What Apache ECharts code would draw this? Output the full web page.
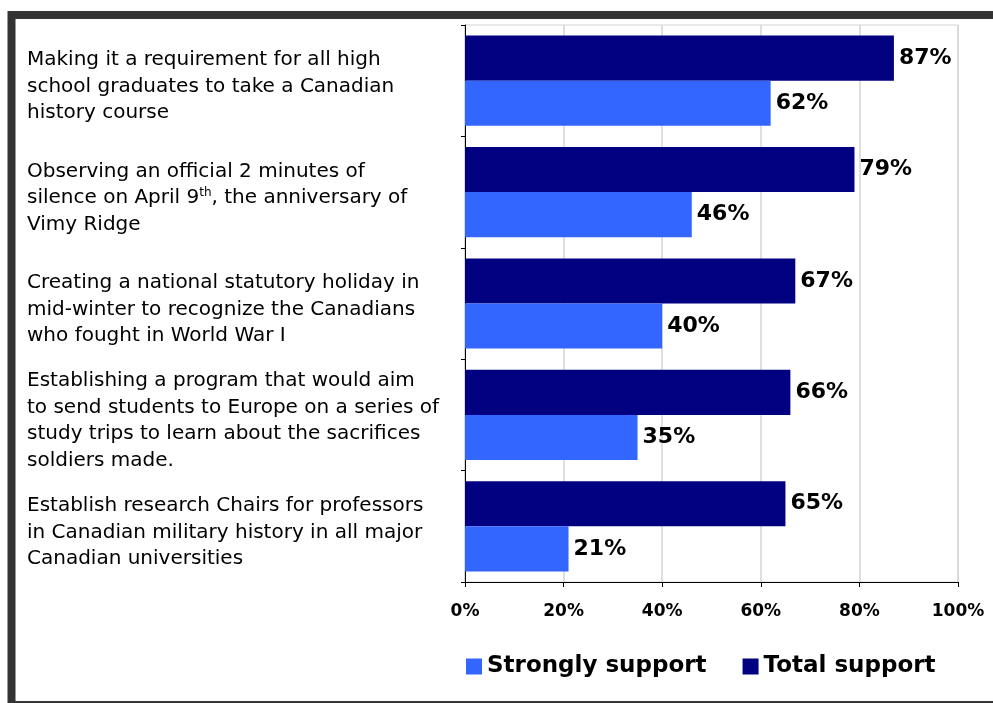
<!DOCTYPE html>
<html>
<head>
<meta charset="utf-8">
<script src="https://cdn.jsdelivr.net/npm/echarts@6/dist/echarts.min.js"></script>
<style>
  html, body { margin: 0; padding: 0; background: #fff; }
  #chart { width: 993px; height: 703px; }
</style>
</head>
<body>
<div id="chart"></div>
<script>
// Proposals, listed top to bottom
const categories = [
  'Making it a requirement for all high\nschool graduates to take a Canadian\nhistory course',
  'Observing an official 2 minutes of\nsilence on April 9th, the anniversary of\nVimy Ridge',
  'Creating a national statutory holiday in\nmid-winter to recognize the Canadians\nwho fought in World War I',
  'Establishing a program that would aim\nto send students to Europe on a series of\nstudy trips to learn about the sacrifices\nsoldiers made.',
  'Establish research Chairs for professors\nin Canadian military history in all major\nCanadian universities'
];
const strongSupport = [62, 46, 40, 35, 21];
const totalSupport = [87, 79, 67, 66, 65];
const xTicks = [0, 20, 40, 60, 80, 100];

const chart = echarts.init(document.getElementById('chart'));

const valueLabel = {
  show: true,
  position: 'right',
  distance: 5,
  formatter: '{c}%',
  color: '#000',
  fontFamily: 'DejaVu Sans',
  fontWeight: 'bold',
  fontSize: 22
};

chart.setOption({
  animation: false,
  backgroundColor: '#fff',
  graphic: [{
    type: 'rect',
    shape: { x: 11.5, y: 15, width: 1000, height: 690 },
    style: { fill: 'none', stroke: '#333', lineWidth: 8 },
    z: 10
  }],
  grid: {
    left: 465, top: 25, right: 35, bottom: 121,
    show: true, borderColor: '#d4d4d4', borderWidth: 1
  },
  legend: {
    data: ['Strongly support', 'Total support'],
    left: 461, top: 650,
    icon: 'rect',
    itemWidth: 16, itemHeight: 16, itemGap: 36,
    textStyle: { color: '#000', fontFamily: 'DejaVu Sans', fontWeight: 'bold', fontSize: 23 }
  },
  xAxis: {
    type: 'value',
    min: xTicks[0], max: xTicks[xTicks.length - 1], interval: 20,
    axisLine: { show: true, lineStyle: { color: '#000', width: 1 } },
    axisTick: { show: true, length: 5, lineStyle: { color: '#000' } },
    splitLine: { show: true, lineStyle: { color: '#d4d4d4', width: 1.5 } },
    axisLabel: {
      formatter: '{value}%', margin: 21, color: '#000',
      fontFamily: 'DejaVu Sans', fontWeight: 'bold', fontSize: 17
    }
  },
  yAxis: {
    type: 'category',
    data: categories,
    inverse: true,
    axisLine: { show: true, lineStyle: { color: '#000', width: 1 } },
    axisTick: { show: true, length: 4, lineStyle: { color: '#000' } },
    splitLine: { show: false },
    axisLabel: {
      align: 'left', margin: 438, color: '#000',
      fontFamily: 'DejaVu Sans', fontSize: 20, lineHeight: 26.5,
      padding: [12, 0, 0, 0],
      formatter: function (v) { return v.replace('9th', '9{sup|th}'); },
      rich: {
        sup: { fontFamily: 'DejaVu Sans', fontSize: 12, color: '#000', padding: [0, 0, 10, 0] }
      }
    }
  },
  series: [
    {
      name: 'Total support', type: 'bar', data: totalSupport,
      barGap: '0%', barCategoryGap: '19%',
      itemStyle: { color: '#000080' },
      label: valueLabel
    },
    {
      name: 'Strongly support', type: 'bar', data: strongSupport,
      barGap: '0%', barCategoryGap: '19%',
      itemStyle: { color: '#3366FF' },
      label: valueLabel
    }
  ]
});
</script>
</body>
</html>
